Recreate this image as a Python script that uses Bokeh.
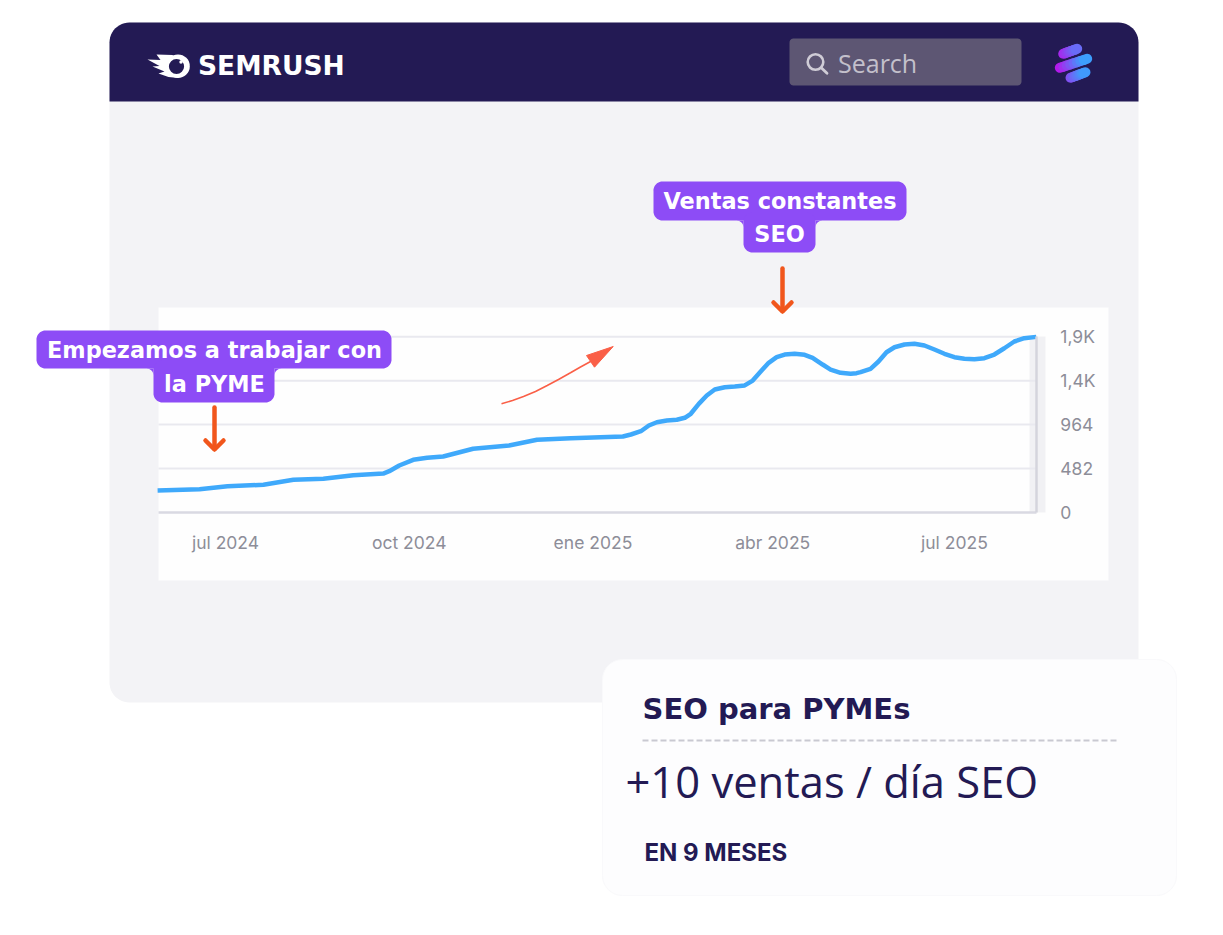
import math
import pandas as pd
from bokeh.core.properties import value
from bokeh.embed import file_html
from bokeh.models import DatetimeAxis, FixedTicker, LinearAxis, LinearScale, Range1d
from bokeh.plotting import figure
from bokeh.resources import INLINE

# ---- data ----
dates = ["2024-05-28","2024-06-18","2024-07-02","2024-07-20","2024-08-04","2024-08-19","2024-09-03",
         "2024-09-18","2024-09-21","2024-09-26","2024-10-03","2024-10-10","2024-10-18","2024-11-02",
         "2024-11-20","2024-12-04","2024-12-21","2025-01-16","2025-01-20","2025-01-25","2025-01-29",
         "2025-02-02","2025-02-07","2025-02-12","2025-02-16","2025-02-19","2025-02-23","2025-02-27",
         "2025-03-03","2025-03-08","2025-03-13","2025-03-18","2025-03-22","2025-03-26","2025-03-30",
         "2025-04-03","2025-04-07","2025-04-12","2025-04-17","2025-04-21","2025-04-26","2025-04-30",
         "2025-05-05","2025-05-10","2025-05-13","2025-05-15","2025-05-20","2025-05-24","2025-05-28",
         "2025-06-01","2025-06-06","2025-06-11","2025-06-16","2025-06-21","2025-06-26","2025-07-01",
         "2025-07-06","2025-07-11","2025-07-16","2025-07-21","2025-07-26","2025-07-31","2025-08-05",
         "2025-08-11"]
visits = [240,254,287,302,357,368,408,426,452,514,577,599,613,698,734,797,814,833,855,891,954,990,1009,
          1017,1039,1083,1192,1284,1350,1375,1383,1394,1448,1547,1643,1705,1734,1742,1731,1698,1624,
          1569,1533,1522,1529,1540,1577,1657,1759,1814,1844,1852,1833,1789,1742,1705,1687,1683,1694,
          1734,1803,1877,1913,1928]
y_ticks = [0, 482, 964, 1446, 1928]
y_labels = ["0", "482", "964", "1,4K", "1,9K"]
x_tick_dates = ["2024-07-01", "2024-10-01", "2025-01-01", "2025-04-01", "2025-07-01"]
x_labels = ["jul 2024", "oct 2024", "ene 2025", "abr 2025", "jul 2025"]

# ---- scale calibration ----
W, H = 1223, 935
ms = lambda d: int(pd.Timestamp(d).timestamp() * 1000)
T0 = ms("2024-07-01")
PX_T0, PX_PER_DAY = 225.0, 1.997
Y0_PX, PX_PER_UNIT = 511.8, 1 / 10.99
x_at = lambda px: T0 + (px - PX_T0) / PX_PER_DAY * 86400000
y_at = lambda py: (Y0_PX - py) / PX_PER_UNIT

p = figure(width=W, height=H, output_backend="svg", toolbar_location=None,
           x_axis_location=None, y_axis_location=None, min_border=0,
           x_range=Range1d(x_at(0), x_at(W)), y_range=Range1d(y_at(H), y_at(0)))
p.outline_line_color = None
p.background_fill_color = "#ffffff"
p.border_fill_color = "#ffffff"
p.xgrid.visible = False
p.ygrid.visible = False
p.extra_x_ranges["px"] = Range1d(0, W)
p.extra_y_ranges["px"] = Range1d(H, 0)
p.extra_x_scales["px"] = LinearScale()
p.extra_y_scales["px"] = LinearScale()
PX = dict(x_range_name="px", y_range_name="px")


def rr(x0, y0, x1, y1, r=0, tl=True, tr=True, br=True, bl=True):
    xs, ys = [], []
    corners = [(x1 - r, y0 + r, -90, tr), (x1 - r, y1 - r, 0, br), (x0 + r, y1 - r, 90, bl), (x0 + r, y0 + r, 180, tl)]
    for cx, cy, a, on in corners:
        if on and r:
            for i in range(13):
                t = math.radians(a + i * 7.5)
                xs.append(cx + r * math.cos(t))
                ys.append(cy + r * math.sin(t))
        else:
            xs.append(x1 if cx > (x0 + x1) / 2 else x0)
            ys.append(y1 if cy > (y0 + y1) / 2 else y0)
    return xs, ys


def box(x0, y0, x1, y1, r, color, level="image", line=None, **k):
    xs, ys = rr(x0, y0, x1, y1, r, **k)
    p.patch(xs, ys, fill_color=color, line_color=line, level=level, **PX)


def fillet(cx, cy, sx, sy, color, r=7):
    # concave joint between the two parts of a callout
    xs, ys = [cx, cx + sx * r], [cy, cy]
    ox, oy = cx + sx * r, cy + sy * r
    for i in range(9):
        t = math.radians(i * 90 / 8)
        xs.append(ox - sx * r * math.sin(t))
        ys.append(oy - sy * r * math.cos(t))
    p.patch(xs, ys, fill_color=color, line_color=None, **PX)


def txt(x, y, s, size, color, font="Inter", bold=False, align="left"):
    p.text([x], [y], text=[s], text_font=value(font), text_font_size=f"{size}px",
           text_font_style="bold" if bold else "normal", text_color=color, text_align=align,
           text_baseline="middle", **PX)


NAVY = "#231a54"
# panels
box(109, 22, 1138, 702, 20, "#f3f3f6")
box(109, 22, 1138, 101, 20, NAVY, br=False, bl=False)
box(158, 307, 1108, 580, 0, "#fefefe")
box(602, 659, 1176, 895, 20, "#fdfdfe", line="#f9f9fb")

# chart: band behind the end of the line
box(1029, 336, 1045, 512, 0, "#f1f1f4")

xa, xb = x_at(158), ms(dates[-1])
p.segment([xa] * 4, y_ticks[1:], [xb] * 4, y_ticks[1:], line_color="#e9e9ef", line_width=2, level="underlay")

xaxis = DatetimeAxis(ticker=FixedTicker(ticks=[ms(d) for d in x_tick_dates]),
                     major_label_overrides={ms(d): l for d, l in zip(x_tick_dates, x_labels)},
                     fixed_location=0, bounds=(xa, xb), axis_line_color="#d9d9e2", axis_line_width=2.5,
                     major_tick_line_color=None, minor_tick_line_color=None, major_label_standoff=14,
                     major_label_text_font="Inter", major_label_text_font_size="17.5px",
                     major_label_text_color="#8d8d98")
p.add_layout(xaxis, "below")
yaxis = LinearAxis(ticker=FixedTicker(ticks=y_ticks),
                   major_label_overrides=dict(zip(y_ticks, y_labels)),
                   fixed_location=xb, bounds=(0, y_ticks[-1]), axis_line_color="#d4d4dd", axis_line_width=2.5,
                   major_tick_line_color=None, minor_tick_line_color=None, major_label_standoff=18,
                   major_label_text_font="Inter", major_label_text_font_size="17.5px",
                   major_label_text_color="#8d8d98")
p.add_layout(yaxis, "right")

p.line([ms(d) for d in dates], visits, line_color="#3fa9fb", line_width=4.5, line_join="round")

# header: logo
p.patch([147, 160, 156, 172, 178, 178, 168, 158, 164, 152, 159],
        [59, 59.5, 54, 54.5, 60, 77.5, 76.5, 73, 71, 66, 65.5], fill_color="#ffffff", line_color=None, **PX)
p.circle([177.5], [65.7], radius=11.8, fill_color="#ffffff", line_color=None, **PX)
p.circle([176], [66], radius=7.6, fill_color=NAVY, line_color=None, **PX)
p.circle([180.5], [61.5], radius=1.7, fill_color="#ffffff", line_color=None, **PX)
txt(197.5, 64.5, "SEMRUSH", 26.5, "#ffffff", font="DejaVu Sans", bold=True)

# header: search
box(789, 38, 1021, 85, 4, "#5d5673", level="glyph")
p.circle([815], [61.5], radius=7.8, fill_color=None, line_color="#cfccd6", line_width=2.6, **PX)
p.line([821, 826.5], [67.5, 72.8], line_color="#cfccd6", line_width=2.8, line_cap="round", **PX)
txt(837.5, 62, "Search", 25, "#c3c0cb", font="Open Sans")

# header: stripes icon
MAG, BLUE = (190, 15, 235), (50, 170, 255)
for (x0, y0, x1, y1) in [(1062.7, 53.3, 1076.7, 48.3), (1059.3, 67.3, 1086.7, 58.3), (1070, 77.3, 1085, 71.7)]:
    n = 8
    gx = [[x0 + (x1 - x0) * i / n, x0 + (x1 - x0) * (i + 1) / n] for i in range(n)]
    gy = [[y0 + (y1 - y0) * i / n, y0 + (y1 - y0) * (i + 1) / n] for i in range(n)]
    mix = [(x0 + (x1 - x0) * (i + .5) / n - 1059) / 28 for i in range(n)]
    cols = ["#%02x%02x%02x" % tuple(int(a + (b - a) * min(m, 1)) for a, b in zip(MAG, BLUE)) for m in mix]
    p.multi_line(gx, gy, line_color=cols, line_width=10, line_cap="round", **PX)

# callouts
PURPLE = "#8d4cf6"
CALLOUT = dict(font="DejaVu Sans", bold=True, align="center")
box(36, 330, 391, 368, 9, PURPLE, level="glyph")
box(153, 360, 274, 402, 9, PURPLE, level="glyph")
fillet(153, 368, -1, 1, PURPLE)
fillet(274, 368, 1, 1, PURPLE)
txt(214, 349.5, "Empezamos a trabajar con", 22.4, "#ffffff", **CALLOUT)
txt(214, 383.5, "la PYME", 22.4, "#ffffff", **CALLOUT)
box(653, 181, 906, 220, 9, PURPLE, level="glyph")
box(743, 212, 815, 252, 9, PURPLE, level="glyph")
fillet(743, 220, -1, 1, PURPLE)
fillet(815, 220, 1, 1, PURPLE)
txt(779.5, 200.5, "Ventas constantes", 22.4, "#ffffff", **CALLOUT)
txt(779, 233.5, "SEO", 22.4, "#ffffff", **CALLOUT)

# orange arrows
ORANGE = "#f1561c"
for ax, top, tip in [(214, 407, 450), (782, 268, 312)]:
    p.multi_line([[ax, ax], [ax - 9, ax, ax + 9]], [[top, tip - 2], [tip - 10, tip - 1, tip - 10]],
                 line_color=ORANGE, line_width=4.5, line_cap="round", line_join="round", **PX)

# thin red arrow
RED = "#fa5f47"
p.line([501, 512, 523, 535, 546.7, 558, 570, 580, 591], [403.3, 400, 396, 391, 385, 379, 372.3, 366.5, 360.5],
       line_color=RED, line_width=1.6, **PX)
p.patch([612.7, 586, 594], [346, 355, 366.7], fill_color=RED, line_color=RED, **PX)

# card
txt(642, 708.5, "SEO para PYMEs", 29, NAVY, font="DejaVu Sans", bold=True)
p.line([642, 1119], [740, 740], line_color="#c9c9d1", line_width=2, line_dash="6 3", **PX)
txt(625, 781, "+10 ventas / día SEO", 43.5, NAVY, font="Open Sans")
txt(644, 852, "EN 9 MESES", 24, NAVY, bold=True)

open("out.html", "w").write(file_html(p, INLINE))
